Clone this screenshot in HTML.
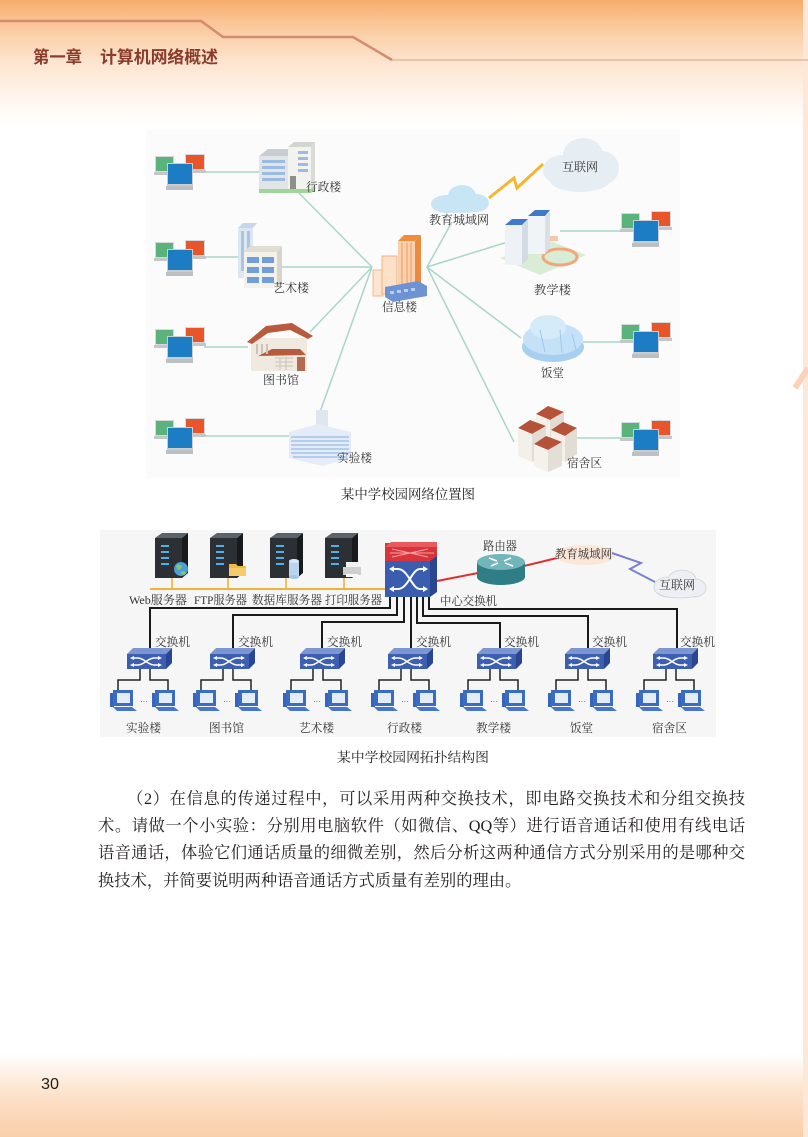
<!DOCTYPE html>
<html><head><meta charset="utf-8">
<style>
html,body{margin:0;padding:0;}
body{width:808px;height:1137px;overflow:hidden;position:relative;background:#fff;}
#hdr{position:absolute;left:0;top:0;width:808px;height:130px;
 background:linear-gradient(to bottom,#f6ab6a 0px,#f9c08e 18px,#fbd3ae 38px,#fde4cf 62px,#fff1e6 90px,#fffaf6 112px,#ffffff 130px);}
#ftr{position:absolute;left:0;top:1054px;width:808px;height:83px;
 background:linear-gradient(to bottom,#ffffff 0px,#fef4ec 14px,#fde6d2 34px,#fbd9bb 58px,#f9cfa9 83px);}
#strip{position:absolute;left:803px;top:0;width:5px;height:1137px;background:#fde7d6;}
.p{position:absolute;font-family:"Liberation Serif","Noto Serif CJK SC",serif;font-size:16.3px;line-height:24px;height:24px;color:#231f20;white-space:nowrap;}
.j{text-align:justify;text-align-last:justify;}
</style></head><body>
<div id="hdr"></div>
<div id="ftr"></div>
<div id="strip"></div>

<svg width="808" height="1137" viewBox="0 0 808 1137" style="position:absolute;left:0;top:0" xmlns="http://www.w3.org/2000/svg">
<defs>
 <g id="pcs">
  <rect x="0" y="2" width="19" height="16" fill="#d6d9db"/>
  <rect x="1" y="3" width="17" height="14" fill="#5bb27a"/>
  <rect x="-1" y="18" width="22" height="3" fill="#c3c7c9"/>
  <rect x="30" y="0" width="20" height="16" fill="#d6d9db"/>
  <rect x="31" y="1" width="18" height="14" fill="#e8552a"/>
  <rect x="29" y="16" width="22" height="3" fill="#c3c7c9"/>
  <rect x="12" y="9" width="26" height="23" fill="#c9cdd0"/>
  <rect x="13" y="10" width="24" height="20" fill="#1c7dc5"/>
  <rect x="11" y="32" width="27" height="4" fill="#bcc0c3"/>
 </g>
 <g id="sw">
  <polygon points="0,6 6,0 45,0 39,6" fill="#7d96d2"/>
  <rect x="0" y="6" width="39" height="15" fill="#3d5fb2"/>
  <polygon points="39,6 45,0 45,15 39,21" fill="#2a4690"/>
  <path d="M5,10 h6 C17,10 21,17 27,17 h6 M5,17 h6 C17,17 21,10 27,10 h6" stroke="#fff" stroke-width="1.5" fill="none"/>
  <polygon points="3,10 7,8 7,12" fill="#fff"/><polygon points="3,17 7,15 7,19" fill="#fff"/>
  <polygon points="35,10 31,8 31,12" fill="#fff"/><polygon points="35,17 31,15 31,19" fill="#fff"/>
 </g>
 <g id="pc">
  <rect x="0" y="3" width="4" height="14" fill="#3566bd"/>
  <rect x="3" y="0" width="20" height="16" fill="#3a6cc2"/>
  <rect x="7" y="3" width="13" height="10" fill="#e4ecf8"/>
  <polygon points="3,17 22,17 27,21 7,21" fill="#4677cc"/>
 </g>
 <g id="srv">
  <polygon points="0,5 7,0 33,0 27,5" fill="#5d636a"/>
  <rect x="0" y="5" width="27" height="40" fill="#2c3035"/>
  <polygon points="27,5 33,0 33,40 27,45" fill="#181b1e"/>
  <rect x="6" y="12" width="8" height="2" fill="#4fb0e8"/>
  <rect x="6" y="18" width="8" height="2" fill="#4fb0e8"/>
  <rect x="6" y="24" width="8" height="2" fill="#4fb0e8"/>
  <rect x="6" y="30" width="8" height="2" fill="#4fb0e8"/>
 </g>
</defs>

<!-- header decoration -->
<polyline points="0,21 201,21 223,37 353,37 392,60" stroke="#d58b6d" stroke-width="2.5" fill="none"/>
<line x1="392" y1="60" x2="808" y2="60" stroke="#d9a28c" stroke-width="1"/>
<text x="33" y="63" font-family="'Noto Sans CJK SC',sans-serif" font-weight="bold" font-size="17" fill="#8a3b2c" textLength="49" lengthAdjust="spacingAndGlyphs">第一章</text>
<text x="100" y="63" font-family="'Noto Sans CJK SC',sans-serif" font-weight="bold" font-size="17" fill="#8a3b2c" textLength="118" lengthAdjust="spacingAndGlyphs">计算机网络概述</text>

<!-- right edge diagonal -->
<line x1="795" y1="388" x2="808" y2="368" stroke="#fbd3b8" stroke-width="6"/>

<!-- ================= Diagram 1 ================= -->
<rect x="146" y="130" width="534" height="348" fill="#fbfbfb"/>
<g stroke="#a9d6ca" stroke-width="1.5" fill="none">
 <line x1="372" y1="267" x2="292" y2="186"/>
 <line x1="372" y1="267" x2="279" y2="267"/>
 <line x1="372" y1="267" x2="310" y2="332"/>
 <line x1="372" y1="267" x2="320" y2="412"/>
 <line x1="427" y1="267" x2="452" y2="222"/>
 <line x1="427" y1="267" x2="514" y2="240"/>
 <line x1="427" y1="267" x2="521" y2="338"/>
 <line x1="427" y1="267" x2="514" y2="442"/>
 <line x1="204" y1="172" x2="262" y2="172"/>
 <line x1="204" y1="257" x2="240" y2="257"/>
 <line x1="204" y1="347" x2="248" y2="347"/>
 <line x1="204" y1="436" x2="292" y2="436"/>
 <line x1="560" y1="231" x2="623" y2="231"/>
 <line x1="583" y1="342" x2="623" y2="342"/>
 <line x1="576" y1="438" x2="623" y2="438"/>
</g>

<!-- computer clusters -->
<use href="#pcs" x="155" y="154"/>
<use href="#pcs" x="155" y="240"/>
<use href="#pcs" x="155" y="327"/>
<use href="#pcs" x="155" y="418"/>
<use href="#pcs" x="621" y="211"/>
<use href="#pcs" x="621" y="322"/>
<use href="#pcs" x="621" y="420"/>

<!-- 行政楼 -->
<polygon points="259,156 268,149 296,149 288,156" fill="#c9cdd1"/>
<rect x="259" y="156" width="29" height="33" fill="#e2e5e8"/>
<g fill="#9cbbe0"><rect x="262" y="160" width="23" height="3"/><rect x="262" y="166" width="23" height="3"/><rect x="262" y="172" width="23" height="3"/><rect x="262" y="178" width="23" height="3"/></g>
<polygon points="288,147 294,142 315,142 311,147" fill="#d3d6cf"/>
<rect x="288" y="147" width="23" height="42" fill="#f2f2ee"/>
<polygon points="311,147 315,142 315,185 311,189" fill="#d9dbd4"/>
<g fill="#9cbbe0"><rect x="298" y="151" width="10" height="3"/><rect x="298" y="157" width="10" height="3"/><rect x="298" y="163" width="10" height="3"/><rect x="298" y="169" width="10" height="3"/></g>
<rect x="290" y="176" width="6" height="13" fill="#8d8f8a"/>
<polygon points="259,189 311,189 315,185 315,190 311,193 259,193" fill="#9ed69a"/>

<!-- 艺术楼 -->
<polygon points="238,228 243,223 257,223 253,228" fill="#c7d6e8"/>
<rect x="238" y="228" width="15" height="50" fill="#dde7f2"/>
<g fill="#a9c5e6"><rect x="241" y="231" width="3" height="40"/><rect x="247" y="231" width="3" height="40"/></g>
<polygon points="244,252 250,246 282,246 277,252" fill="#e0ddd2"/>
<rect x="244" y="252" width="33" height="36" fill="#f3f1ea"/>
<polygon points="277,252 282,246 282,283 277,288" fill="#d6d4cb"/>
<g fill="#6f9ed8"><rect x="247" y="257" width="12" height="6"/><rect x="262" y="257" width="12" height="6"/><rect x="247" y="267" width="12" height="6"/><rect x="262" y="267" width="12" height="6"/><rect x="247" y="277" width="12" height="6"/><rect x="262" y="277" width="12" height="6"/></g>

<!-- 图书馆 -->
<rect x="251" y="338" width="56" height="33" fill="#efe9df"/>
<polygon points="247,342 266,326 292,323 313,336 308,339 290,330 268,333 252,344" fill="#b85a3e"/>
<polygon points="258,356 272,349 300,349 306,355" fill="#b85a3e"/>
<g fill="#c9c3b8"><rect x="256" y="344" width="2" height="10"/><rect x="261" y="344" width="2" height="10"/><rect x="266" y="344" width="2" height="10"/></g>
<g stroke="#c8c4bc" stroke-width="1"><line x1="275" y1="358" x2="293" y2="358"/><line x1="275" y1="362" x2="293" y2="362"/><line x1="275" y1="366" x2="293" y2="366"/><line x1="280" y1="357" x2="280" y2="370"/><line x1="286" y1="357" x2="286" y2="370"/></g>
<rect x="297" y="357" width="8" height="14" fill="#b26a50"/>

<!-- 实验楼 -->
<rect x="316" y="410" width="12" height="22" fill="#dfe6ef"/>
<polygon points="289,432 318,424 351,432 351,458 322,466 289,458" fill="#e4edf7"/>
<g stroke="#94bce6" stroke-width="1.2"><line x1="291" y1="437" x2="349" y2="437"/><line x1="291" y1="441" x2="349" y2="441"/><line x1="291" y1="445" x2="349" y2="445"/><line x1="291" y1="449" x2="349" y2="449"/><line x1="291" y1="453" x2="349" y2="453"/><line x1="293" y1="457" x2="347" y2="457"/></g>

<!-- 信息楼 -->
<rect x="373" y="270" width="10" height="26" fill="#fbe5d0" stroke="#f1b98f" stroke-width="1"/>
<rect x="382" y="256" width="15" height="38" fill="#fbe1c8" stroke="#efb084" stroke-width="1"/>
<polygon points="398,241 404,235 421,235 415,241" fill="#ef8d3e"/>
<rect x="398" y="241" width="17" height="48" fill="#f8d2ae"/>
<polygon points="415,241 421,235 421,284 415,289" fill="#ea8b42"/>
<g stroke="#ee9a5a" stroke-width="1"><line x1="402" y1="243" x2="402" y2="287"/><line x1="407" y1="243" x2="407" y2="287"/><line x1="411" y1="243" x2="411" y2="287"/></g>
<polygon points="385,287 418,281 427,286 427,296 393,302 385,297" fill="#6d93d4"/>
<g fill="#b7cdf0"><rect x="390" y="291" width="4" height="3"/><rect x="397" y="290" width="4" height="3"/><rect x="404" y="289" width="4" height="3"/><rect x="411" y="288" width="4" height="3"/></g>

<!-- clouds -->
<g fill="#c8e5f5"><ellipse cx="447" cy="204" rx="16" ry="9"/><ellipse cx="462" cy="196" rx="14" ry="11"/><ellipse cx="476" cy="203" rx="13" ry="9"/><ellipse cx="460" cy="207" rx="26" ry="6"/></g>
<polyline points="489,198 514,178 517,188 543,164" fill="none" stroke="#f5b52e" stroke-width="3" stroke-linejoin="miter"/>
<g fill="#e6edf3"><ellipse cx="562" cy="170" rx="19" ry="15"/><ellipse cx="583" cy="155" rx="20" ry="17"/><ellipse cx="602" cy="168" rx="17" ry="17"/><ellipse cx="580" cy="180" rx="30" ry="12"/></g>

<!-- 教学楼 -->
<polygon points="500,258 548,240 586,255 540,275" fill="#d9ecd6"/>
<ellipse cx="560" cy="257" rx="17" ry="8" fill="none" stroke="#f2a77b" stroke-width="3"/>
<polygon points="505,225 512,219 528,219 522,225" fill="#3f79c9"/>
<rect x="505" y="225" width="17" height="40" fill="#eef2f6"/>
<polygon points="522,225 528,219 528,259 522,265" fill="#d3dbe5"/>
<polygon points="528,216 535,210 550,210 545,216" fill="#3f79c9"/>
<rect x="528" y="216" width="17" height="38" fill="#f1f4f7"/>
<polygon points="545,216 550,210 550,248 545,254" fill="#d8dfe8"/>
<rect x="550" y="236" width="8" height="5" fill="#f5c9a8"/>

<!-- 饭堂 -->
<ellipse cx="553" cy="347" rx="31" ry="15" fill="#a7d0f0"/>
<ellipse cx="553" cy="339" rx="30" ry="16" fill="#c4e1f7"/>
<ellipse cx="548" cy="327" rx="18" ry="12" fill="#d6ebfa"/>
<g stroke="#9ccaee" stroke-width="1" fill="none"><line x1="540" y1="330" x2="545" y2="352"/><line x1="560" y1="330" x2="562" y2="353"/><line x1="572" y1="334" x2="576" y2="350"/></g>

<!-- 宿舍区 -->
<g>
 <polygon points="536,414 548,406 564,412 550,420" fill="#b65238"/>
 <polygon points="536,414 550,420 550,444 536,438" fill="#f3f0ea"/>
 <polygon points="550,420 564,412 564,436 550,444" fill="#e2ddd4"/>
 <polygon points="518,428 530,420 546,426 532,434" fill="#b65238"/>
 <polygon points="518,428 532,434 532,462 518,456" fill="#f3f0ea"/>
 <polygon points="532,434 546,426 546,454 532,462" fill="#e2ddd4"/>
 <polygon points="551,430 563,422 577,428 565,436" fill="#b65238"/>
 <polygon points="551,430 565,436 565,462 551,456" fill="#f3f0ea"/>
 <polygon points="565,436 577,428 577,454 565,462" fill="#e2ddd4"/>
 <polygon points="534,444 546,436 562,442 548,450" fill="#b65238"/>
 <polygon points="534,444 548,450 548,472 534,466" fill="#f5f2ec"/>
 <polygon points="548,450 562,442 562,466 548,472" fill="#e4dfd6"/>
</g>

<!-- diagram 1 labels -->
<g font-family="'Liberation Serif','Noto Serif CJK SC',serif" font-size="12" fill="#333">
 <text x="306" y="191" textLength="35" lengthAdjust="spacingAndGlyphs">行政楼</text>
 <text x="273" y="292" textLength="36" lengthAdjust="spacingAndGlyphs">艺术楼</text>
 <text x="263" y="384" textLength="36" lengthAdjust="spacingAndGlyphs">图书馆</text>
 <text x="337" y="462" textLength="35" lengthAdjust="spacingAndGlyphs">实验楼</text>
 <text x="382" y="311" textLength="35" lengthAdjust="spacingAndGlyphs">信息楼</text>
 <text x="429" y="224" textLength="60" lengthAdjust="spacingAndGlyphs">教育城域网</text>
 <text x="562" y="171" textLength="36" lengthAdjust="spacingAndGlyphs">互联网</text>
 <text x="534" y="294" textLength="37" lengthAdjust="spacingAndGlyphs">教学楼</text>
 <text x="541" y="377" textLength="23" lengthAdjust="spacingAndGlyphs">饭堂</text>
 <text x="567" y="467" textLength="35" lengthAdjust="spacingAndGlyphs">宿舍区</text>
</g>
<text x="408" y="499" text-anchor="middle" font-family="'Liberation Serif','Noto Serif CJK SC',serif" font-size="13.5" fill="#222" textLength="134" lengthAdjust="spacingAndGlyphs">某中学校园网络位置图</text>

<!-- ================= Diagram 2 ================= -->
<rect x="100" y="530" width="616" height="207" fill="#f6f6f6"/>

<!-- servers -->
<use href="#srv" x="155" y="533"/>
<use href="#srv" x="210" y="533"/>
<use href="#srv" x="270" y="533"/>
<use href="#srv" x="325" y="533"/>
<circle cx="181" cy="569" r="7" fill="#4a9fd8"/>
<path d="M176,566 q3,-3 6,0 q-1,4 -4,4 z M181,572 q3,-2 5,1 q-2,3 -5,1 z" fill="#8cc66a"/>
<polygon points="229,564 236,564 238,566 246,566 246,576 229,576" fill="#f0b848"/>
<rect x="229" y="568" width="17" height="8" fill="#f6cb6a"/>
<rect x="289" y="561" width="10" height="16" fill="#b8d4ee"/>
<ellipse cx="294" cy="561" rx="5" ry="2" fill="#d8e8f6"/>
<ellipse cx="294" cy="577" rx="5" ry="2" fill="#a6c6e6"/>
<rect x="346" y="562" width="12" height="5" fill="#f2f2f2"/>
<rect x="343" y="567" width="18" height="8" fill="#cfcfcf"/>
<rect x="346" y="574" width="12" height="3" fill="#f7f7f7"/>

<!-- yellow bus -->
<g stroke="#f2b23a" stroke-width="1.6">
 <line x1="150" y1="589" x2="386" y2="589" stroke-width="2"/>
 <line x1="172" y1="578" x2="172" y2="589"/>
 <line x1="228" y1="578" x2="228" y2="589"/>
 <line x1="286" y1="578" x2="286" y2="589"/>
 <line x1="344" y1="578" x2="344" y2="589"/>
</g>

<!-- black links -->
<g stroke="#1a1a1a" stroke-width="2" fill="none">
 <polyline points="390,597 390,608 150,608 150,649"/>
 <polyline points="397,597 397,615 233,615 233,649"/>
 <polyline points="404,597 404,622 322,622 322,649"/>
 <polyline points="411,597 411,649"/>
 <polyline points="417,597 417,623 500,623 500,649"/>
 <polyline points="423,597 423,616 588,616 588,649"/>
 <polyline points="429,597 429,609 677,609 677,649"/>
</g>

<!-- central switch -->
<rect x="385" y="543" width="52" height="18" fill="#d8343c"/>
<polygon points="385,547 391,542 437,542 437,547" fill="#e85a5e"/>
<path d="M392,549 L428,557 M392,557 L428,549 M390,553 h44" stroke="#f3a0a3" stroke-width="1" fill="none"/>
<rect x="385" y="561" width="45" height="36" fill="#3b5daf"/>
<polygon points="430,561 437,556 437,592 430,597" fill="#2a468f"/>
<path d="M392,569 h6 C408,569 412,589 420,589 h5 M392,589 h6 C408,589 412,569 420,569 h5" stroke="#fff" stroke-width="2" fill="none"/>
<polygon points="389,569 394,566 394,572" fill="#fff"/><polygon points="389,589 394,586 394,592" fill="#fff"/>
<polygon points="428,569 423,566 423,572" fill="#fff"/><polygon points="428,589 423,586 423,592" fill="#fff"/>

<!-- red links and router -->
<g stroke="#e03030" stroke-width="2" fill="none">
 <line x1="437" y1="581" x2="478" y2="573"/>
 <line x1="524" y1="566" x2="557" y2="558"/>
</g>
<path d="M477,562 v15 a24,8 0 0 0 48,0 v-15 z" fill="#2f7d85"/>
<ellipse cx="501" cy="562" rx="24" ry="8" fill="#72b6bb"/>
<g stroke="#fff" stroke-width="1.5" fill="none"><line x1="489" y1="558" x2="497" y2="561"/><line x1="505" y1="563" x2="513" y2="566"/><line x1="491" y1="566" x2="498" y2="563"/><line x1="504" y1="561" x2="511" y2="558"/></g>

<ellipse cx="585" cy="555" rx="30" ry="10" fill="#fbe6d8"/>
<polyline points="612,553 641,563 630,569 655,582" fill="none" stroke="#7b80d0" stroke-width="2"/>
<g fill="#eceff3" stroke="#d0d5dc" stroke-width="0.8"><ellipse cx="668" cy="587" rx="14" ry="10"/><ellipse cx="682" cy="580" rx="14" ry="10"/><ellipse cx="695" cy="588" rx="11" ry="9"/><ellipse cx="680" cy="592" rx="22" ry="6"/></g>
<g fill="#eceff3"><ellipse cx="668" cy="587" rx="13" ry="9"/><ellipse cx="682" cy="580" rx="13" ry="9"/><ellipse cx="695" cy="588" rx="10" ry="8"/><ellipse cx="680" cy="592" rx="21" ry="5"/></g>

<!-- switches -->
<use href="#sw" x="127" y="648"/>
<use href="#sw" x="210" y="648"/>
<use href="#sw" x="300" y="648"/>
<use href="#sw" x="388" y="648"/>
<use href="#sw" x="477" y="648"/>
<use href="#sw" x="565" y="648"/>
<use href="#sw" x="653" y="648"/>

<!-- switch -> PC links -->
<g stroke="#222" stroke-width="1.5" fill="none">
 <polyline points="140,669 140,680 118,680 118,692"/><polyline points="150,669 150,680 168,680 168,692"/>
 <polyline points="223,669 223,680 201,680 201,692"/><polyline points="233,669 233,680 251,680 251,692"/>
 <polyline points="313,669 313,680 291,680 291,692"/><polyline points="323,669 323,680 341,680 341,692"/>
 <polyline points="401,669 401,680 379,680 379,692"/><polyline points="411,669 411,680 429,680 429,692"/>
 <polyline points="490,669 490,680 468,680 468,692"/><polyline points="500,669 500,680 518,680 518,692"/>
 <polyline points="578,669 578,680 556,680 556,692"/><polyline points="588,669 588,680 606,680 606,692"/>
 <polyline points="666,669 666,680 644,680 644,692"/><polyline points="676,669 676,680 694,680 694,692"/>
</g>

<!-- PCs -->
<use href="#pc" x="110" y="690"/><use href="#pc" x="152" y="690"/>
<use href="#pc" x="193" y="690"/><use href="#pc" x="235" y="690"/>
<use href="#pc" x="283" y="690"/><use href="#pc" x="325" y="690"/>
<use href="#pc" x="371" y="690"/><use href="#pc" x="413" y="690"/>
<use href="#pc" x="460" y="690"/><use href="#pc" x="502" y="690"/>
<use href="#pc" x="548" y="690"/><use href="#pc" x="590" y="690"/>
<use href="#pc" x="636" y="690"/><use href="#pc" x="678" y="690"/>
<g fill="#555"><text x="140" y="704" font-size="8" font-family="'Liberation Sans',sans-serif">···</text>
<text x="223" y="704" font-size="8" font-family="'Liberation Sans',sans-serif">···</text>
<text x="313" y="704" font-size="8" font-family="'Liberation Sans',sans-serif">···</text>
<text x="401" y="704" font-size="8" font-family="'Liberation Sans',sans-serif">···</text>
<text x="490" y="704" font-size="8" font-family="'Liberation Sans',sans-serif">···</text>
<text x="578" y="704" font-size="8" font-family="'Liberation Sans',sans-serif">···</text>
<text x="666" y="704" font-size="8" font-family="'Liberation Sans',sans-serif">···</text></g>

<!-- diagram 2 labels -->
<g font-family="'Liberation Serif','Noto Serif CJK SC',serif" font-size="12" fill="#333">
 <text x="129" y="604" textLength="58" lengthAdjust="spacingAndGlyphs">Web服务器</text>
 <text x="194" y="604" textLength="53" lengthAdjust="spacingAndGlyphs">FTP服务器</text>
 <text x="252" y="604" textLength="70" lengthAdjust="spacingAndGlyphs">数据库服务器</text>
 <text x="325" y="604" textLength="57" lengthAdjust="spacingAndGlyphs">打印服务器</text>
 <text x="483" y="550" textLength="34" lengthAdjust="spacingAndGlyphs">路由器</text>
 <text x="555" y="558" textLength="57" lengthAdjust="spacingAndGlyphs">教育城域网</text>
 <text x="659" y="589" textLength="36" lengthAdjust="spacingAndGlyphs">互联网</text>
 <text x="440" y="605" textLength="57" lengthAdjust="spacingAndGlyphs">中心交换机</text>
 <text x="155" y="646" textLength="35" lengthAdjust="spacingAndGlyphs">交换机</text>
 <text x="238" y="646" textLength="35" lengthAdjust="spacingAndGlyphs">交换机</text>
 <text x="327" y="646" textLength="35" lengthAdjust="spacingAndGlyphs">交换机</text>
 <text x="416" y="646" textLength="35" lengthAdjust="spacingAndGlyphs">交换机</text>
 <text x="504" y="646" textLength="35" lengthAdjust="spacingAndGlyphs">交换机</text>
 <text x="592" y="646" textLength="35" lengthAdjust="spacingAndGlyphs">交换机</text>
 <text x="680" y="646" textLength="35" lengthAdjust="spacingAndGlyphs">交换机</text>
 <text x="126" y="732" textLength="35" lengthAdjust="spacingAndGlyphs">实验楼</text>
 <text x="209" y="732" textLength="35" lengthAdjust="spacingAndGlyphs">图书馆</text>
 <text x="299" y="732" textLength="35" lengthAdjust="spacingAndGlyphs">艺术楼</text>
 <text x="387" y="732" textLength="35" lengthAdjust="spacingAndGlyphs">行政楼</text>
 <text x="476" y="732" textLength="35" lengthAdjust="spacingAndGlyphs">教学楼</text>
 <text x="570" y="732" textLength="23" lengthAdjust="spacingAndGlyphs">饭堂</text>
 <text x="652" y="732" textLength="35" lengthAdjust="spacingAndGlyphs">宿舍区</text>
</g>
<text x="413" y="762" text-anchor="middle" font-family="'Liberation Serif','Noto Serif CJK SC',serif" font-size="13.5" fill="#222" textLength="152" lengthAdjust="spacingAndGlyphs">某中学校园网拓扑结构图</text>

<!-- page number -->
<text x="41" y="1089" font-family="'Liberation Sans',sans-serif" font-size="16" fill="#1e1e1e" textLength="18" lengthAdjust="spacingAndGlyphs">30</text>
</svg>

<div class="p j" style="left:127px;top:787px;width:618px;">（2）在信息的传递过程中，可以采用两种交换技术，即电路交换技术和分组交换技</div>
<div class="p j" style="left:98px;top:814px;width:647px;">术。请做一个小实验：分别用电脑软件（如微信、QQ等）进行语音通话和使用有线电话</div>
<div class="p j" style="left:98px;top:841px;width:647px;">语音通话，体验它们通话质量的细微差别，然后分析这两种通信方式分别采用的是哪种交</div>
<div class="p" style="left:98px;top:869px;">换技术，并简要说明两种语音通话方式质量有差别的理由。</div>
</body></html>
